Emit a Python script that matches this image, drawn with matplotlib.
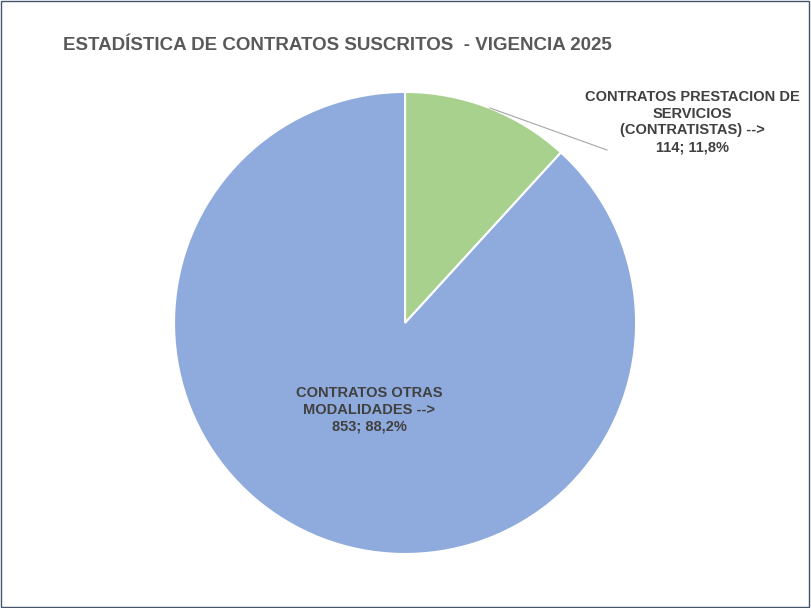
import matplotlib
matplotlib.use("Agg")
import matplotlib.pyplot as plt
from matplotlib.patches import Rectangle

categories = ["CONTRATOS PRESTACION DE\nSERVICIOS\n(CONTRATISTAS) -->", "CONTRATOS OTRAS\nMODALIDADES -->"]
values = [114, 853]
colors = ["#a9d18e", "#8faadc"]

plt.rcParams['font.family'] = ['Liberation Sans', 'DejaVu Sans']
fig = plt.figure(figsize=(8.11, 6.08), dpi=100)
ax = fig.add_axes([0.4994 - 0.2848, 0.4688 - 0.38, 0.5697, 0.76])
wedges, _ = ax.pie(values, colors=colors, startangle=90, counterclock=False,
                   wedgeprops=dict(edgecolor="white", linewidth=1.5))
ax.set_aspect('equal')
ax.set_xlim(-1, 1); ax.set_ylim(-1, 1)

total = sum(values)
def lab(i):
    pct = f"{values[i]/total*100:.1f}".replace(".", ",")
    return f"{categories[i]}\n{values[i]}; {pct}%"

fig.text(692/811, 1-122/608, lab(0), ha="center", va="center", fontsize=10.5,
         fontweight="bold", color="#404040", linespacing=1.25)
fig.text(369/811, 1-410/608, lab(1), ha="center", va="center", fontsize=10.5,
         fontweight="bold", color="#404040", linespacing=1.25)
fig.add_artist(plt.Line2D([490/811, 607/811], [1-108/608, 1-150/608], color="#a6a6a6", lw=0.8))
fig.text(63/811, 1-45/608, "ESTADÍSTICA DE CONTRATOS SUSCRITOS  - VIGENCIA 2025", ha="left",
         va="center", fontsize=13.5, fontweight="bold", color="#595959")
fig.add_artist(Rectangle((0.001, 0.001), 0.997, 0.997, transform=fig.transFigure,
                         fill=False, edgecolor="#44546a", lw=1))
fig.savefig("out.png", dpi=100)
